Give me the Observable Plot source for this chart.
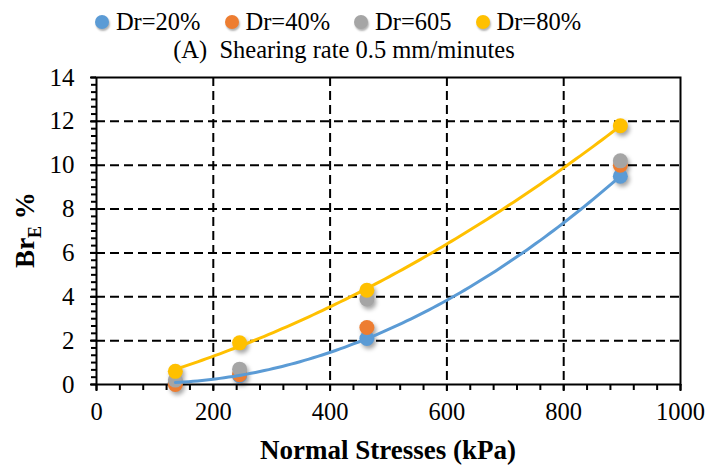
<!DOCTYPE html>
<html>
<head>
<meta charset="utf-8">
<script src="https://cdn.jsdelivr.net/npm/d3@7"></script>
<script src="https://cdn.jsdelivr.net/npm/@observablehq/plot@0.6"></script>
<style>
  body { margin: 0; background: #fff; }
  #wrap { position: relative; width: 706px; height: 466px; font-family: 'Liberation Serif'; color: #000; }
  #legend { position: absolute; top: 9px; left: 0; width: 676px; display: flex; justify-content: center; gap: 24px; font-size: 24.5px; line-height: 26px; }
  #legend .item { display: flex; align-items: center; gap: 7px; }
  #legend .sw { width: 14px; height: 14px; border-radius: 50%; box-shadow: 1px 2px 2px rgba(0,0,0,0.3); }
  #subtitle { position: absolute; top: 37px; left: 0; width: 688px; text-align: center; font-size: 24.5px; line-height: 26px; white-space: pre; }
  #chart { position: absolute; top: 0; left: 0; }
</style>
</head>
<body>
<div id="wrap">
  <div id="chart"></div>
  <div id="legend"></div>
  <div id="subtitle"></div>
</div>
<script>
// Normal stress levels (kPa) and breakage BrE (%) for each relative density
const stresses = [135, 245, 463, 897];
const dr20 = [0.1, 0.4, 2.1, 9.5];
const dr40 = [0.0, 0.45, 2.6, 10.0];
const dr60 = [0.2, 0.7, 3.9, 10.2];
const dr80 = [0.6, 1.9, 4.3, 11.8];
const seriesNames = ["Dr=20%", "Dr=40%", "Dr=605", "Dr=80%"];
const seriesColors = ["#5B9BD5", "#ED7D31", "#A5A5A5", "#FFC000"];
const xTicks = [0, 200, 400, 600, 800, 1000];
const yTicks = [0, 2, 4, 6, 8, 10, 12, 14];
const subtitle = "(A)  Shearing rate 0.5 mm/minutes";

const serif = "'Liberation Serif'";

const seriesValues = [dr20, dr40, dr60, dr80];
const points = seriesValues.flatMap((vals, i) =>
  vals.map((v, j) => ({ series: seriesNames[i], x: stresses[j], y: v }))
);

// Second-order polynomial trend (least squares) for a series
function quadFit(xs, ys) {
  const S = k => d3.sum(xs, x => x ** k);
  const T = k => d3.sum(xs, (x, i) => x ** k * ys[i]);
  const A = [[S(0), S(1), S(2)], [S(1), S(2), S(3)], [S(2), S(3), S(4)]];
  const b = [T(0), T(1), T(2)];
  const n = 3;
  for (let c = 0; c < n; c++) {
    for (let r = c + 1; r < n; r++) {
      const f = A[r][c] / A[c][c];
      for (let k = c; k < n; k++) A[r][k] -= f * A[c][k];
      b[r] -= f * b[c];
    }
  }
  const coef = [0, 0, 0];
  for (let r = n - 1; r >= 0; r--) {
    let s = b[r];
    for (let k = r + 1; k < n; k++) s -= A[r][k] * coef[k];
    coef[r] = s / A[r][r];
  }
  return x => coef[0] + coef[1] * x + coef[2] * x * x;
}
function trend(vals, name) {
  const f = quadFit(stresses, vals);
  const x0 = d3.min(stresses), x1 = d3.max(stresses);
  return d3.range(0, 101).map(i => {
    const x = x0 + (x1 - x0) * i / 100;
    return { series: name, x, y: f(x) };
  });
}
const trendLines = [...trend(dr20, seriesNames[0]), ...trend(dr80, seriesNames[3])];

const colorOf = Object.fromEntries(seriesNames.map((n, i) => [n, seriesColors[i]]));
const dash = { stroke: "#000", strokeOpacity: 1, strokeWidth: 2, strokeDasharray: "9,5" };

const chart = Plot.plot({
  width: 706,
  height: 466,
  marginTop: 77,
  marginBottom: 82,
  marginLeft: 96,
  marginRight: 26,
  style: { fontFamily: serif, fontSize: "24px", color: "#000", background: "transparent" },
  x: { domain: [0, 1000] },
  y: { domain: [0, 14] },
  marks: [
    Plot.gridX(xTicks.slice(1, -1), dash),
    Plot.gridY(yTicks.slice(1, -1), dash),
    Plot.axisX(d3.range(0, 1001, 40), { tickSize: 6, strokeWidth: 2, tickFormat: () => "", label: null }),
    Plot.axisX(xTicks, { tickSize: 7, strokeWidth: 2, tickPadding: 11, fontSize: 24.5, fontFamily: serif, tickFormat: d => String(d), label: null }),
    Plot.axisY(d3.range(0, 14.01, 1 / 3), { tickSize: 5, strokeWidth: 2, tickFormat: () => "", label: null }),
    Plot.axisY(yTicks, { tickSize: 6, strokeWidth: 2, tickPadding: 16, fontSize: 25, fontFamily: serif, tickFormat: d => String(d), label: null }),
    Plot.frame({ stroke: "#000", strokeWidth: 2 }),
    Plot.dot(points, { x: "x", y: "y", r: 7.5, fill: d => colorOf[d.series], stroke: "none" }),
    Plot.line(trendLines, { x: "x", y: "y", z: "series", stroke: d => colorOf[d.series], strokeWidth: 3 })
  ]
});
document.getElementById("chart").appendChild(chart);

const svg = d3.select(chart);
svg.selectAll('g[aria-label="dot"]').style("filter", "drop-shadow(2px 3px 2px rgba(0,0,0,0.35))");

// Axis titles
svg.append("text")
  .attr("x", 388).attr("y", 459)
  .attr("text-anchor", "middle")
  .style("font-family", serif)
  .attr("font-weight", "bold").attr("font-size", 27)
  .attr("fill", "#000")
  .text("Normal Stresses (kPa)");

const yt = svg.append("text")
  .attr("transform", "translate(34,230) rotate(-90)")
  .attr("text-anchor", "middle")
  .style("font-family", serif)
  .attr("font-weight", "bold").attr("font-size", 27)
  .attr("fill", "#000");
yt.append("tspan").text("Br");
yt.append("tspan").attr("font-size", 18).attr("dy", 7).text("E");
yt.append("tspan").attr("dy", -7).text(" %");

// Legend and subtitle
const legend = d3.select("#legend");
seriesNames.forEach((name, i) => {
  const item = legend.append("div").attr("class", "item");
  item.append("div").attr("class", "sw").style("background", seriesColors[i]);
  item.append("span").text(name);
});
d3.select("#subtitle").text(subtitle);
</script>
</body>
</html>
